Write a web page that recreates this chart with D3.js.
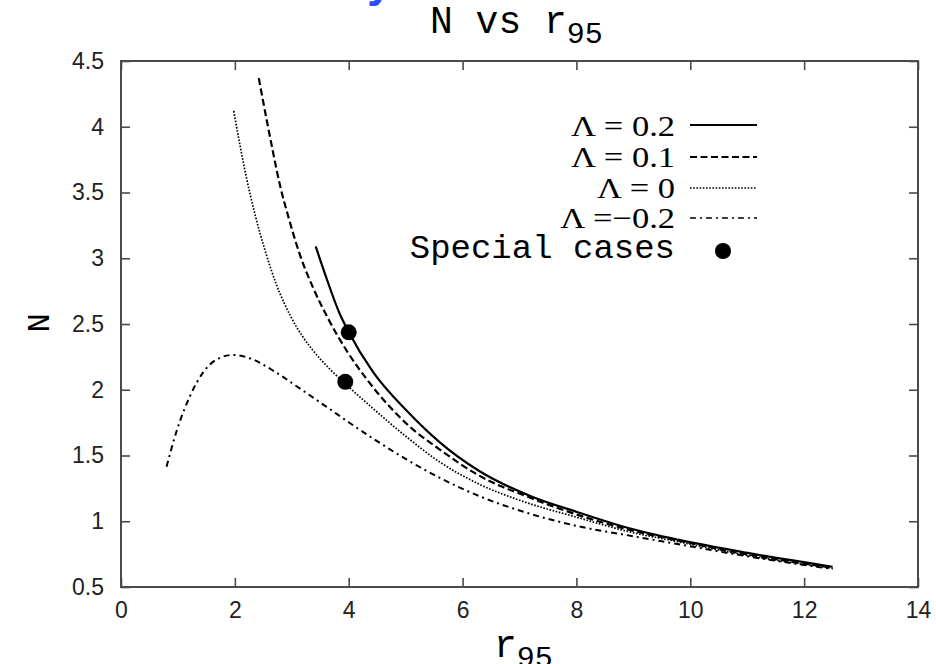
<!DOCTYPE html>
<html>
<head>
<meta charset="utf-8">
<script src="https://cdn.jsdelivr.net/npm/d3@7"></script>
<style>
  html, body { margin: 0; padding: 0; background: #fff; }
  svg { display: block; }
</style>
</head>
<body>
<svg id="chart" width="936" height="664"></svg>
<script>
// ---- data ----
const xTicks = [0, 2, 4, 6, 8, 10, 12, 14];
const yTicks = [0.5, 1, 1.5, 2, 2.5, 3, 3.5, 4, 4.5];

const r_L02 = [3.42, 3.6, 3.84, 4.0, 4.42, 5.02, 5.6, 6.3, 7.2, 8.05, 8.88, 9.8, 10.98, 12.5];
const N_L02 = [3.09, 2.86, 2.58, 2.44, 2.14, 1.84, 1.60, 1.38, 1.19, 1.065, 0.952, 0.858, 0.761, 0.654];

const r_L01 = [2.42, 2.56, 2.66, 2.79, 2.95, 3.14, 3.37, 3.64, 3.96, 4.37, 5.02, 5.6, 6.3, 7.18, 8.05, 8.88, 9.8, 10.98, 12.5];
const N_L01 = [4.37, 4.05, 3.83, 3.56, 3.30, 3.03, 2.78, 2.54, 2.30, 2.05, 1.74, 1.545, 1.345, 1.18, 1.045, 0.94, 0.852, 0.75, 0.648];

const r_L0 = [1.98, 2.09, 2.2, 2.35, 2.53, 2.73, 2.99, 3.37, 3.65, 3.94, 4.42, 5.02, 5.6, 6.3, 7.0, 8.05, 8.88, 9.8, 10.98, 12.5];
const N_L0 = [4.12, 3.86, 3.62, 3.34, 3.06, 2.80, 2.55, 2.30, 2.165, 2.045, 1.86, 1.64, 1.45, 1.28, 1.16, 1.025, 0.925, 0.843, 0.742, 0.643];

const r_Lm02 = [0.80, 0.98, 1.21, 1.44, 1.68, 1.97, 2.26, 2.73, 3.14, 3.61, 4.02, 4.42, 5.02, 5.6, 6.3, 7.2, 8.05, 8.88, 9.8, 10.98, 12.5];
const N_Lm02 = [1.415, 1.69, 1.95, 2.13, 2.23, 2.265, 2.24, 2.13, 2.01, 1.87, 1.747, 1.631, 1.469, 1.33, 1.19, 1.055, 0.96, 0.895, 0.825, 0.735, 0.637];

const special_r = [4.0, 3.94];
const special_N = [2.437, 2.06];

const legendLabels = ["\u039B = 0.2", "\u039B = 0.1", "\u039B = 0", "\u039B =\u22120.2"];

// ---- layout ----
const svg = d3.select("#chart");
const M = { left: 121, right: 918, top: 61, bottom: 587 };
const x = d3.scaleLinear().domain([0, 14]).range([M.left, M.right]);
const y = d3.scaleLinear().domain([0.5, 4.5]).range([M.bottom, M.top]);

const axisColor = "#4a4a4a";
const tickFont = "'Liberation Sans', Arial, Helvetica, sans-serif";
const monoFont = "'Liberation Mono', 'Courier New', Courier, monospace";
const serifFont = "'Liberation Serif', 'Times New Roman', Times, serif";

// partially visible blue text at the very top (cut off in the reference)
svg.append("text")
  .attr("x", 367).attr("y", -4)
  .attr("font-family", tickFont).attr("font-weight", "bold")
  .attr("font-size", 46).attr("fill", "#2f4dff")
  .text("y");

// title
const title = svg.append("text")
  .attr("x", 430).attr("y", 33)
  .attr("font-family", monoFont).attr("font-size", 38).attr("fill", "#000");
title.append("tspan").text("N vs r");
title.append("tspan").attr("dy", 10).attr("font-size", 30).text("95");

// axes (ticks inward, mirrored)
function styleAxis(g) {
  g.selectAll("path.domain").remove();
  g.selectAll(".tick line").attr("stroke", axisColor).attr("stroke-width", 1.6);
  g.selectAll(".tick text")
    .style("font-family", tickFont).style("font-size", "23px").attr("fill", "#222");
}
svg.append("g").attr("transform", `translate(0,${M.bottom})`)
  .call(d3.axisBottom(x).tickValues(xTicks).tickFormat(d3.format("d")).tickSizeInner(-9).tickSizeOuter(0).tickPadding(15))
  .call(styleAxis);
svg.append("g").attr("transform", `translate(0,${M.top})`)
  .call(d3.axisTop(x).tickValues(xTicks).tickFormat("").tickSizeInner(-9).tickSizeOuter(0))
  .call(styleAxis);
svg.append("g").attr("transform", `translate(${M.left},0)`)
  .call(d3.axisLeft(y).tickValues(yTicks).tickFormat(d => String(d)).tickSizeInner(-9).tickSizeOuter(0).tickPadding(17))
  .call(styleAxis);
svg.append("g").attr("transform", `translate(${M.right},0)`)
  .call(d3.axisRight(y).tickValues(yTicks).tickFormat("").tickSizeInner(-9).tickSizeOuter(0))
  .call(styleAxis);

// frame
svg.append("rect")
  .attr("x", M.left).attr("y", M.top)
  .attr("width", M.right - M.left).attr("height", M.bottom - M.top)
  .attr("fill", "none").attr("stroke", axisColor).attr("stroke-width", 2);

// axis labels
svg.append("text")
  .attr("transform", "translate(49,323) rotate(-90)")
  .attr("text-anchor", "middle")
  .attr("font-family", monoFont).attr("font-size", 32).attr("fill", "#000")
  .text("N");

const xl = svg.append("text")
  .attr("x", 494).attr("y", 657)
  .attr("font-family", monoFont).attr("font-size", 38).attr("fill", "#000");
xl.append("tspan").text("r");
xl.append("tspan").attr("dy", 10).attr("font-size", 30).text("95");

// series
const series = [
  { r: r_L02, N: N_L02, dash: null, width: 2.2 },
  { r: r_L01, N: N_L01, dash: "7,3.5", width: 2.2 },
  { r: r_L0, N: N_L0, dash: "1.6,1.6", width: 1.7 },
  { r: r_Lm02, N: N_Lm02, dash: "6,4,2,4", width: 2 }
];
const line = d3.line().x(d => x(d[0])).y(d => y(d[1])).curve(d3.curveMonotoneX);

series.forEach(s => {
  const pts = s.r.map((v, i) => [v, s.N[i]]);
  svg.append("path")
    .datum(pts)
    .attr("d", line)
    .attr("fill", "none")
    .attr("stroke", "#000")
    .attr("stroke-width", s.width)
    .attr("stroke-dasharray", s.dash);
});

// special points
svg.selectAll("circle.special")
  .data(special_r.map((v, i) => [v, special_N[i]]))
  .enter().append("circle")
  .attr("class", "special")
  .attr("cx", d => x(d[0])).attr("cy", d => y(d[1]))
  .attr("r", 8).attr("fill", "#000");

// legend
const legRows = [125, 157, 188, 218];
const legBase = [136, 167, 198, 228];
legendLabels.forEach((lab, i) => {
  svg.append("text")
    .attr("transform", `translate(675,${legBase[i]}) scale(1.15,1)`)
    .attr("text-anchor", "end")
    .attr("font-family", serifFont).attr("font-size", 30).attr("fill", "#000")
    .text(lab);
  svg.append("line")
    .attr("x1", 690).attr("x2", 757)
    .attr("y1", legRows[i]).attr("y2", legRows[i])
    .attr("stroke", "#000")
    .attr("stroke-width", series[i].width * 0.8)
    .attr("stroke-dasharray", series[i].dash);
});
svg.append("text")
  .attr("x", 675).attr("y", 258)
  .attr("text-anchor", "end")
  .attr("font-family", monoFont).attr("font-size", 34).attr("fill", "#000")
  .text("Special cases");
svg.append("circle")
  .attr("cx", 723).attr("cy", 251).attr("r", 8).attr("fill", "#000");
</script>
</body>
</html>
